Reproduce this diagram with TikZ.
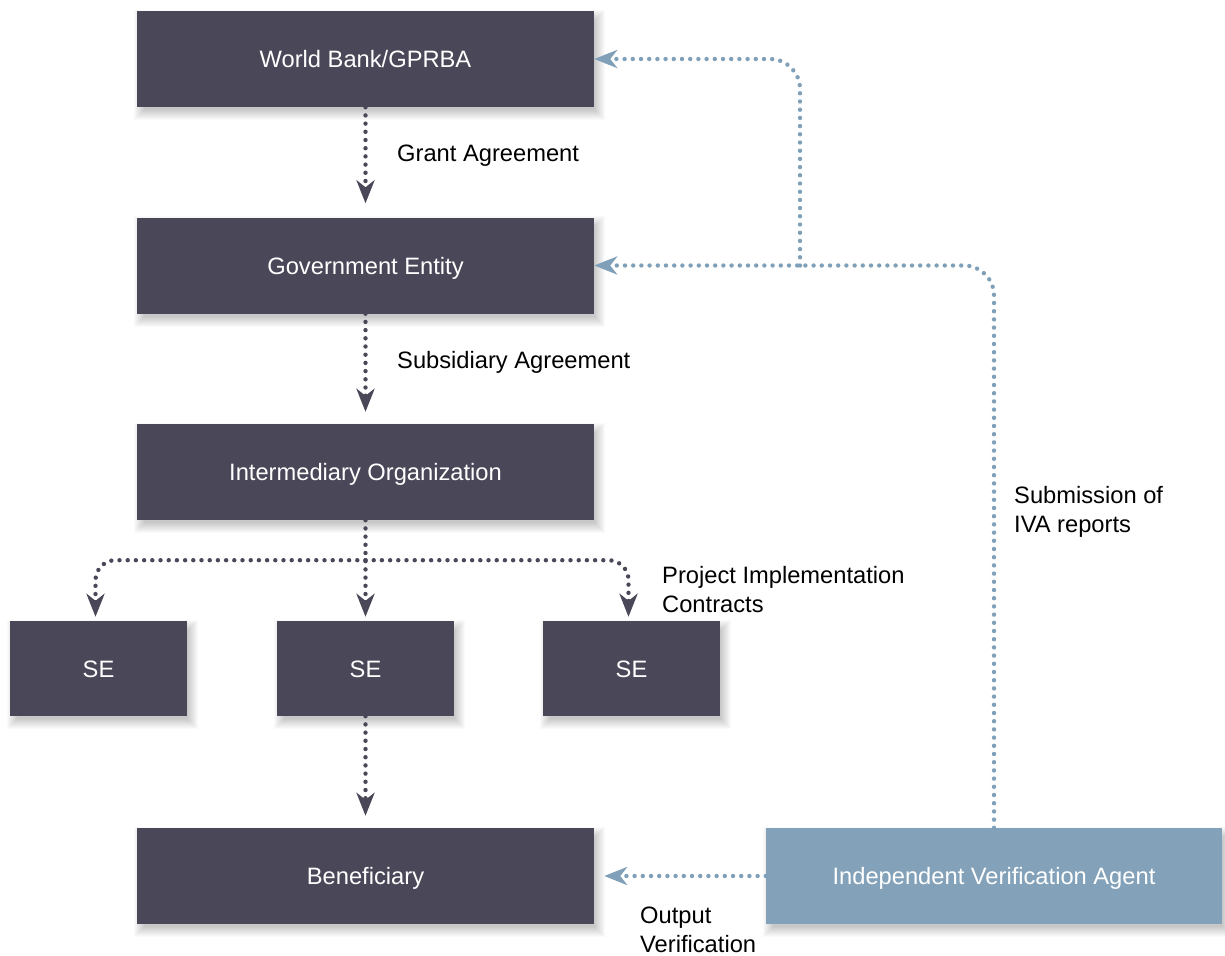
\documentclass[tikz,border=0pt]{standalone}
\usepackage{fontspec}
\setmainfont{Liberation Sans}
\usetikzlibrary{arrows.meta,backgrounds}
\definecolor{boxdark}{HTML}{4A4858}
\definecolor{boxblue}{HTML}{83A2B9}
\definecolor{lineblue}{HTML}{7FA0B8}
\newcommand\softshadow[1]{%
  \begin{scope}[on background layer]
  \foreach \k in {0,...,10}{%
    \fill[black,opacity=0.02] ([shift={({4-(\k-3)},{6+(\k-3)})}]#1.south west) rectangle ([shift={({4+(\k-3)},{6-(\k-3)})}]#1.north east);
  }
  \end{scope}}
\begin{document}
\begin{tikzpicture}[x=1pt,y=-1pt,
  every node/.style={font=\fontsize{23.7}{28.5}\selectfont},
  darkbox/.style={fill=boxdark,text=white,minimum width=457pt,minimum height=96pt,inner sep=0pt,text height=17pt,text depth=0pt},
  sebox/.style={darkbox,minimum width=177pt,minimum height=95pt},
  ivabox/.style={darkbox,fill=boxblue,minimum width=456pt},
  dotline/.style={line width=4.4pt,dash pattern=on 0pt off 8.2pt,line cap=round},
  darkarrow/.style={dotline,draw=boxdark,-{Stealth[length=23pt,width=18pt,inset=7pt]}},
  bluearrow/.style={dotline,draw=lineblue,-{Stealth[length=23pt,width=18pt,inset=7pt]}},
  lbl/.style={anchor=base west,align=left,inner sep=0pt,text=black}]
\useasboundingbox (0,0) rectangle (1225,955);
\begin{scope}[on background layer]
  \fill[white] (0,0) rectangle (1225,955);
\end{scope}

% boxes
\node[darkbox] (wb) at (365.5,59) {World Bank/GPRBA};
\node[darkbox] (ge) at (365.5,265.5) {Government Entity};
\node[darkbox] (io) at (365.5,472) {Intermediary Organization};
\node[sebox] (se1) at (98.5,668.5) {SE};
\node[sebox] (se2) at (365.5,668.5) {SE};
\node[sebox] (se3) at (631.5,668.5) {SE};
\node[darkbox] (ben) at (365.5,876) {Beneficiary};
\node[ivabox] (iva) at (994,876) {Independent Verification Agent};

\foreach \n in {wb,ge,io,se1,se2,se3,ben,iva}{\softshadow{\n}}

% labels (base anchor = baseline of the last line)
\node[lbl] (lga) at (397,161.7) {Grant Agreement};
\node[lbl] (lsa) at (397,368) {Subsidiary Agreement};
\node[lbl] (lpic) at (662,612) {Project Implementation\\Contracts};
\node[lbl] (lsub) at (1014,532) {Submission of\\IVA reports};
\node[lbl] (lov) at (640,952) {Output\\Verification};

% dark connectors
\draw[darkarrow,shorten >=14pt] (wb.south) -- (ge.north);
\draw[darkarrow,shorten >=12pt] (ge.south) -- (io.north);
\coordinate (jn) at ([yshift=-40pt]io.south);
\draw[darkarrow,shorten >=4pt] (io.south) -- (se2.north);
\draw[darkarrow,rounded corners=20pt,shorten >=4pt] (jn) -| ([xshift=-3pt]se1.north);
\draw[darkarrow,rounded corners=20pt,shorten >=4pt] (jn) -| ([xshift=-3pt]se3.north);
\draw[darkarrow,shorten >=12pt] (se2.south) -- (ben.north);

% blue connectors
\coordinate (bx) at (800,0);
\coordinate (br) at (ge.east -| bx);
\draw[bluearrow,rounded corners=30pt] (iva.north) |- (ge.east);
\draw[bluearrow,rounded corners=30pt] (br) |- (wb.east);
\draw[bluearrow,shorten >=10pt] (iva.west) -- (ben.east);
\end{tikzpicture}
\end{document}
